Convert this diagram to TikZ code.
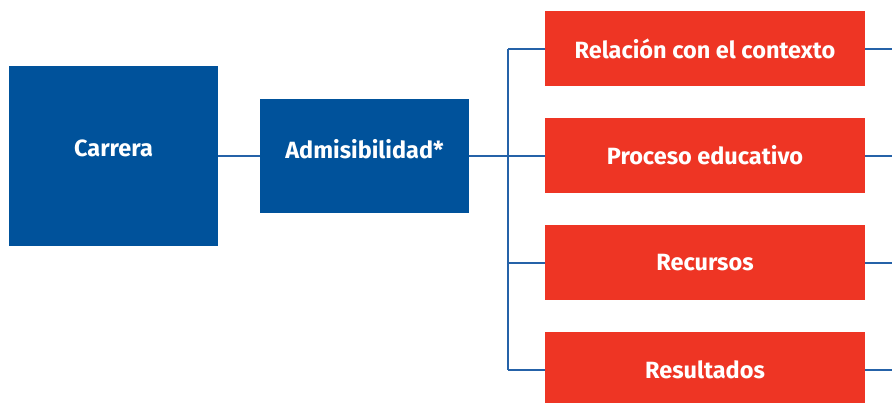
\documentclass[tikz,border=0pt]{standalone}
\usepackage{fontspec}
\setmainfont{Fira Sans}
\definecolor{cnablue}{HTML}{00529B}
\definecolor{cnared}{HTML}{EE3524}
\definecolor{cnaline}{HTML}{2562A8}
\tikzset{
    bluebox/.style={fill=cnablue, text=white, font=\bfseries\fontsize{23.5}{26}\selectfont, minimum width=209pt, inner sep=0pt, text depth=14pt},
    redbox/.style={fill=cnared, text=white, font=\bfseries\fontsize{23.5}{26}\selectfont, minimum width=320pt, minimum height=75pt, inner sep=0pt},
    link/.style={cnaline, line width=2pt}
}
\begin{document}
\begin{tikzpicture}[x=1pt, y=-1pt]
    \useasboundingbox (0,0) rectangle (892,402);
    \node[bluebox, minimum height=180pt] (carrera) at (113.5,155.5) {Carrera};
    \node[bluebox, minimum height=114pt] (admis) at (364.5,155.5) {Admisibilidad*};
    \node[redbox] (contexto) at (705,48.5) {Relación con el contexto};
    \node[redbox] (proceso) at (705,155.5) {Proceso educativo};
    \node[redbox] (recursos) at (705,262.5) {Recursos};
    \node[redbox] (resultados) at (705,369.5) {Resultados};
    \coordinate (trunk) at (508,0);
    \coordinate (rim) at (892,0);
    \draw[link] (carrera.east) -- (admis.west);
    \draw[link] (admis.east) -- (admis.east -| trunk);
    \draw[link] (trunk |- contexto.west) -- (trunk |- resultados.west);
    \foreach \crit in {contexto, proceso, recursos, resultados} {
        \draw[link] (trunk |- \crit.west) -- (\crit.west);
        \draw[link] (\crit.east) -- (\crit.east -| rim);
    }
\end{tikzpicture}
\end{document}
